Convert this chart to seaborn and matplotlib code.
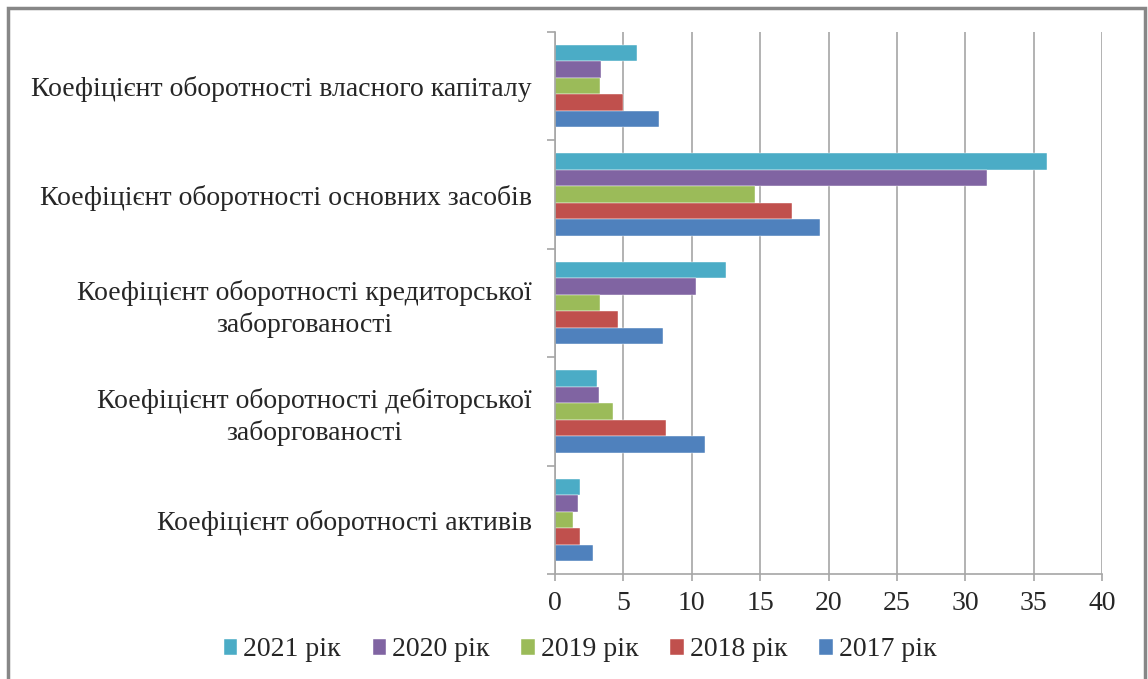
import matplotlib
matplotlib.use("Agg")
import matplotlib.pyplot as plt
import seaborn as sns
import pandas as pd
from matplotlib.patches import Rectangle
from matplotlib.ticker import FixedLocator

categories = [
    "Коефіцієнт оборотності власного капіталу",
    "Коефіцієнт оборотності основних засобів",
    "Коефіцієнт оборотності кредиторської\nзаборгованості",
    "Коефіцієнт оборотності дебіторської\nзаборгованості",
    "Коефіцієнт оборотності активів",
]
years = ["2021 рік", "2020 рік", "2019 рік", "2018 рік", "2017 рік"]
v2021 = [6.0, 36.0, 12.5, 3.1, 1.8]
v2020 = [3.4, 31.6, 10.3, 3.2, 1.7]
v2019 = [3.3, 14.6, 3.3, 4.25, 1.35]
v2018 = [4.95, 17.3, 4.6, 8.1, 1.8]
v2017 = [7.6, 19.4, 7.9, 11.0, 2.75]
colors = ["#4BACC6", "#8064A2", "#9BBB59", "#C0504D", "#4F81BD"]
xticks = [0, 5, 10, 15, 20, 25, 30, 35, 40]

series = [v2021, v2020, v2019, v2018, v2017]
rows = []
for y, vals in zip(years, series):
    for c, v in zip(categories, vals):
        rows.append({"cat": c, "year": y, "value": v})
df = pd.DataFrame(rows)

sns.set_style("white")
plt.rcParams["font.family"] = ["Liberation Serif", "DejaVu Serif"]

fig = plt.figure(figsize=(11.48, 6.79), dpi=100)
W, H = 1148, 679
ax = fig.add_axes([555 / W, 1 - 574 / H, (1102 - 555) / W, (574 - 32) / H])

sns.barplot(data=df, y="cat", x="value", hue="year", order=categories,
            hue_order=years, palette=colors, orient="h", width=0.76,
            saturation=1, edgecolor="#ffffff", linewidth=0.3, ax=ax,
            legend=True)

ax.set_xlim(0, 40)
ax.set_ylim(4.5, -0.5)
ax.set_xticks(xticks)
ax.set_xticklabels([str(t) for t in xticks])
ax.set_xlabel("")
ax.set_ylabel("")
ax.grid(axis="x", color="#A6A6A6", linewidth=1.2)
ax.set_axisbelow(True)
for s in ["top", "right"]:
    ax.spines[s].set_visible(False)
for s in ["left", "bottom"]:
    ax.spines[s].set_color("#A6A6A6")
    ax.spines[s].set_linewidth(1.2)

fs = 20
ax.tick_params(axis="x", which="major", length=5, color="#A6A6A6",
               width=1.2, labelsize=fs, pad=7, direction="out", bottom=True)
ax.tick_params(axis="y", which="major", length=0, labelsize=fs, pad=16.5)
ax.yaxis.set_minor_locator(FixedLocator([-0.5, 0.5, 1.5, 2.5, 3.5, 4.5]))
ax.tick_params(axis="y", which="minor", length=6, color="#A6A6A6",
               width=1.2, direction="out", left=True)
for lbl in ax.get_yticklabels():
    lbl.set_multialignment("center")
    lbl.set_linespacing(1.3)

handles, labels = ax.get_legend_handles_labels()
ax.get_legend().remove()
fig.legend(handles, labels, loc="center", ncol=5,
           bbox_to_anchor=(580 / W, 1 - 650 / H), frameon=False,
           fontsize=fs, handlelength=0.5, handleheight=0.5,
           handletextpad=0.2, columnspacing=1.15)

fig.patches.append(Rectangle((8 / W, -0.05), (1145 - 8) / W, 1.05 - 8 / H,
                             transform=fig.transFigure, fill=False,
                             edgecolor="#878787", linewidth=2.5))

fig.savefig("out.png", dpi=100)
